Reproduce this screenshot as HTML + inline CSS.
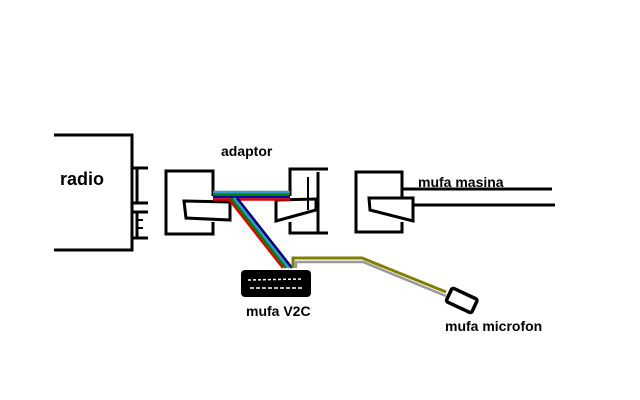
<!DOCTYPE html>
<html><head><style>body{margin:0;background:#fff}svg{display:block}text{font-family:"Liberation Sans",sans-serif;font-weight:bold;fill:#000}</style></head>
<body>
<svg width="640" height="400" viewBox="0 0 640 400" xmlns="http://www.w3.org/2000/svg">
<g stroke="#000" stroke-width="3" fill="none">
<polyline points="54,135 132,135 132,250 54,250"/>
<polyline points="132,168 148,168"/><line x1="137" y1="168" x2="137" y2="203"/><polyline points="132,203 148,203"/>
<polyline points="132,212 148,212"/><line x1="137" y1="212" x2="137" y2="238"/><polyline points="132,238 148,238"/>
<line x1="137" y1="220" x2="143" y2="220" stroke-width="2"/><line x1="137" y1="228" x2="143" y2="228" stroke-width="2"/>
<polyline points="213,196 213,171 166,171 166,234 213,234 213,222"/>
<polygon points="184,201 230,202 230,220 186,218"/>
<polyline points="290,196 290,169 328,169"/>
<polyline points="290,222 290,233 328,233"/>
<polygon points="276,200 316,199 316,210 276,221"/>
<line x1="318" y1="172" x2="318" y2="233"/>
<line x1="308" y1="177" x2="308" y2="210" stroke-width="2"/>
<polyline points="402,198 402,172 356,172 356,232 402,232 402,222"/>
<polygon points="369,198 413,198 413,221 370,210"/>
<line x1="402" y1="189" x2="552" y2="189"/>
<line x1="413" y1="205" x2="555" y2="205"/>
</g>
<g fill="none" stroke-width="2.5">
<line x1="213" y1="192" x2="290" y2="192" stroke="#3399cc"/>
<line x1="213" y1="194.5" x2="290" y2="194.5" stroke="#008000"/>
<line x1="213" y1="197" x2="290" y2="197" stroke="#0000aa"/>
<line x1="213" y1="199.5" x2="290" y2="199.5" stroke="#e00000"/>
<line x1="228" y1="198" x2="283" y2="268" stroke="#e00000"/>
<line x1="231" y1="198" x2="286" y2="268" stroke="#008000"/>
<line x1="234" y1="198" x2="289" y2="268" stroke="#3399cc"/>
<line x1="237" y1="198" x2="292" y2="268" stroke="#000080"/>
<polyline points="296,268 296,262 363,262 446,296" stroke="#999"/>
<polyline points="293,268 293,258 362,258 446,292" stroke="#808000" stroke-width="3"/>
</g>
<rect x="241" y="270" width="70" height="27" rx="4" fill="#000"/>
<line x1="248" y1="280" x2="302" y2="279" stroke="#fff" stroke-width="1.5" stroke-dasharray="3,2"/>
<line x1="250" y1="288" x2="302" y2="288" stroke="#fff" stroke-width="1.5" stroke-dasharray="4,2"/>
<g transform="translate(462,300) rotate(25)"><rect x="-14" y="-7" width="28" height="15" rx="2" fill="#fff" stroke="#000" stroke-width="3.5"/></g>
<text x="60" y="185" font-size="18">radio</text>
<text x="221" y="156" font-size="14">adaptor</text>
<text x="418" y="187" font-size="14">mufa masina</text>
<text x="246" y="316" font-size="14">mufa V2C</text>
<text x="445" y="331" font-size="14">mufa microfon</text>
</svg>
</body></html>
